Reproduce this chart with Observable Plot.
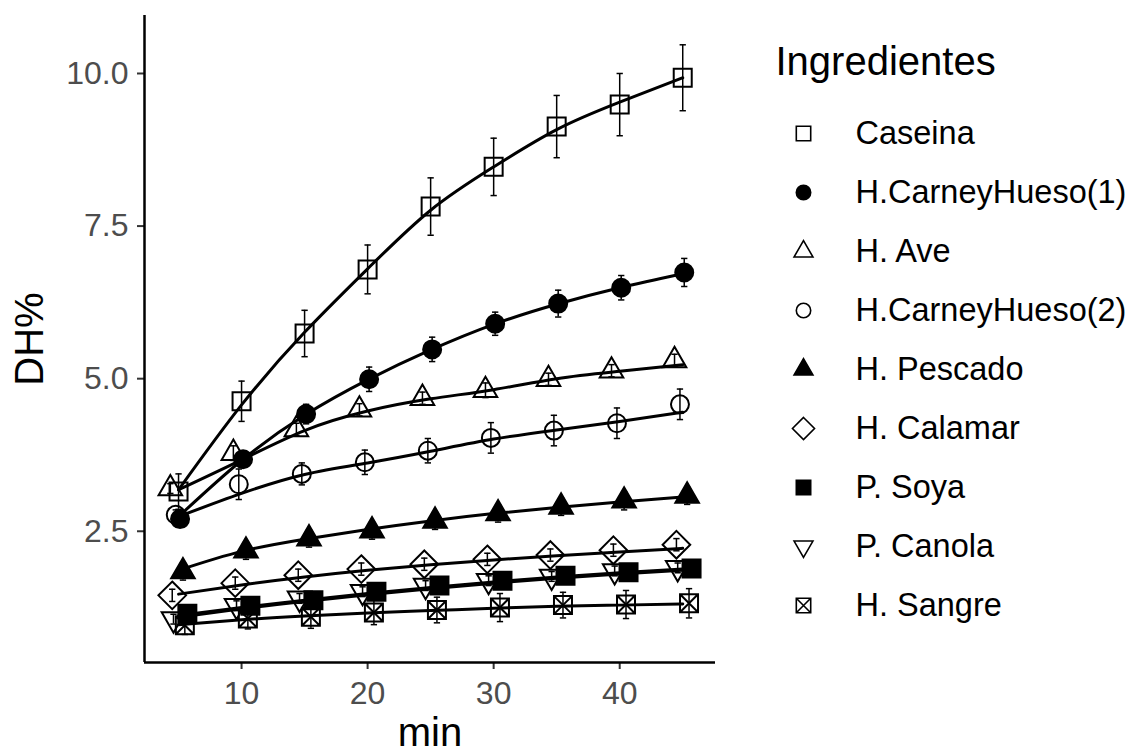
<!DOCTYPE html>
<html>
<head>
<meta charset="utf-8">
<script src="https://cdn.jsdelivr.net/npm/d3@7"></script>
<script src="https://cdn.jsdelivr.net/npm/@observablehq/plot@0.6"></script>
<style>
  body { margin: 0; background: #fff; }
  #chart { position: relative; width: 1129px; height: 754px; background: #fff;
           font-family: "Liberation Sans", Arial, sans-serif; }
  #plot { position: absolute; left: 0; top: 0; }
  #legend { position: absolute; left: 740px; top: 0; }
</style>
</head>
<body>
<div id="chart"><div id="plot"></div><div id="legend"></div></div>
<script>
// Sampling times (min)
const minutes = [5, 10, 15, 20, 25, 30, 35, 40, 45];

// Legend / series order
const ingredients = ["Caseina", "H.CarneyHueso(1)", "H. Ave", "H.CarneyHueso(2)",
  "H. Pescado", "H. Calamar", "P. Soya", "P. Canola", "H. Sangre"];

// Mean degree of hydrolysis (DH%), standard deviation, and fitted curve per ingredient
const caseinaDH  = [3.15, 4.63, 5.74, 6.79, 7.82, 8.47, 9.13, 9.49, 9.93];
const caseinaSD  = [0.29, 0.33, 0.38, 0.40, 0.47, 0.47, 0.51, 0.51, 0.54];
const caseinaFit = [3.18, 4.57, 5.76, 6.80, 7.76, 8.47, 9.08, 9.53, 9.93];

const carne1DH  = [2.70, 3.68, 4.42, 4.99, 5.48, 5.90, 6.23, 6.49, 6.74];
const carne1SD  = [0.06, 0.09, 0.16, 0.20, 0.20, 0.19, 0.22, 0.20, 0.23];
const carne1Fit = [2.74, 3.66, 4.40, 4.98, 5.47, 5.89, 6.22, 6.49, 6.72];

const aveDH  = [3.20, 3.78, 4.17, 4.49, 4.68, 4.81, 4.99, 5.13, 5.30];
const aveSD  = [0.08, 0.12, 0.10, 0.10, 0.10, 0.12, 0.10, 0.10, 0.10];
const aveFit = [3.18, 3.67, 4.15, 4.47, 4.67, 4.82, 5.00, 5.12, 5.23];

const carne2DH  = [2.77, 3.27, 3.44, 3.63, 3.82, 4.03, 4.15, 4.27, 4.58];
const carne2SD  = [0.08, 0.25, 0.18, 0.20, 0.20, 0.25, 0.25, 0.25, 0.25];
const carne2Fit = [2.74, 3.12, 3.43, 3.62, 3.81, 4.01, 4.16, 4.30, 4.45];

const pescadoDH  = [1.84, 2.18, 2.38, 2.51, 2.67, 2.79, 2.90, 3.00, 3.08];
const pescadoSD  = [0.14, 0.14, 0.14, 0.14, 0.14, 0.14, 0.14, 0.15, 0.14];
const pescadoFit = [1.86, 2.17, 2.37, 2.53, 2.67, 2.79, 2.89, 2.98, 3.06];

const calamarDH  = [1.45, 1.65, 1.78, 1.88, 1.96, 2.04, 2.11, 2.19, 2.28];
const calamarSD  = [0.10, 0.10, 0.10, 0.10, 0.10, 0.10, 0.10, 0.10, 0.10];
const calamarFit = [1.47, 1.62, 1.75, 1.86, 1.95, 2.03, 2.10, 2.16, 2.22];

const soyaDH  = [1.15, 1.28, 1.37, 1.51, 1.61, 1.69, 1.77, 1.83, 1.89];
const soyaSD  = [0.05, 0.05, 0.05, 0.05, 0.05, 0.05, 0.05, 0.05, 0.05];
const soyaFit = [1.12, 1.25, 1.37, 1.48, 1.58, 1.67, 1.75, 1.82, 1.88];

const canolaDH  = [1.06, 1.28, 1.40, 1.51, 1.61, 1.69, 1.76, 1.85, 1.90];
const canolaSD  = [0.08, 0.08, 0.08, 0.08, 0.08, 0.08, 0.08, 0.08, 0.08];
const canolaFit = [1.09, 1.23, 1.35, 1.46, 1.56, 1.65, 1.73, 1.80, 1.86];

const sangreDH  = [0.96, 1.07, 1.10, 1.17, 1.21, 1.25, 1.29, 1.30, 1.32];
const sangreSD  = [0.15, 0.17, 0.19, 0.20, 0.21, 0.23, 0.21, 0.23, 0.24];
const sangreFit = [0.97, 1.05, 1.11, 1.16, 1.20, 1.24, 1.27, 1.29, 1.31];

// Axis ticks
const xTicks = [10, 20, 30, 40];
const yTicks = [2.5, 5.0, 7.5, 10.0];

// ---- custom point shapes (R-style pch symbols) ----
const rad = size => Math.sqrt(size / Math.PI);
const S60 = Math.sqrt(3) / 2;
const shapes = {
  square: { draw(c, s) { const k = rad(s) * 0.9; c.rect(-k, -k, 2 * k, 2 * k); } },
  circle: { draw(c, s) { const k = rad(s) * 0.9; c.moveTo(k, 0); c.arc(0, 0, k, 0, 2 * Math.PI); c.closePath(); } },
  triUp: { draw(c, s) { const R = rad(s) * 1.36; c.moveTo(0, -R); c.lineTo(R * S60, R / 2); c.lineTo(-R * S60, R / 2); c.closePath(); } },
  triDown: { draw(c, s) { const R = rad(s) * 1.36; c.moveTo(0, R); c.lineTo(R * S60, -R / 2); c.lineTo(-R * S60, -R / 2); c.closePath(); } },
  diamond: { draw(c, s) { const D = rad(s) * 1.38; c.moveTo(0, -D); c.lineTo(D, 0); c.lineTo(0, D); c.lineTo(-D, 0); c.closePath(); } },
  squareX: { draw(c, s) { const k = rad(s) * 0.9; c.rect(-k, -k, 2 * k, 2 * k);
    c.moveTo(-k, -k); c.lineTo(k, k); c.moveTo(k, -k); c.lineTo(-k, k); } }
};

// Per-series styling and horizontal dodge (in minutes)
const styling = [
  { dh: caseinaDH, sd: caseinaSD, fit: caseinaFit, shape: shapes.square,  filled: false, dodge: 0.0 },
  { dh: carne1DH,  sd: carne1SD,  fit: carne1Fit,  shape: shapes.circle,  filled: true,  dodge: 0.12 },
  { dh: aveDH,     sd: aveSD,     fit: aveFit,     shape: shapes.triUp,   filled: false, dodge: -0.65 },
  { dh: carne2DH,  sd: carne2SD,  fit: carne2Fit,  shape: shapes.circle,  filled: false, dodge: -0.22 },
  { dh: pescadoDH, sd: pescadoSD, fit: pescadoFit, shape: shapes.triUp,   filled: true,  dodge: 0.35 },
  { dh: calamarDH, sd: calamarSD, fit: calamarFit, shape: shapes.diamond, filled: false, dodge: -0.5 },
  { dh: soyaDH,    sd: soyaSD,    fit: soyaFit,    shape: shapes.square,  filled: true,  dodge: 0.7 },
  { dh: canolaDH,  sd: canolaSD,  fit: canolaFit,  shape: shapes.triDown, filled: false, dodge: -0.4 },
  { dh: sangreDH,  sd: sangreSD,  fit: sangreFit,  shape: shapes.squareX, filled: false, dodge: 0.5 }
];

const series = ingredients.map((name, j) => {
  const st = styling[j];
  return {
    name, ...st,
    rows: minutes.map((m, i) => ({ m, t: m + st.dodge, dh: st.dh[i], sd: st.sd[i], fit: st.fit[i] }))
  };
});

const FONT = '"Liberation Sans", Arial, sans-serif';
const X_DOMAIN = [2.3, 47.6];
const Y_DOMAIN = [0.35, 10.95];
const CAP = 0.25; // half-width of error-bar caps (min)

const lineMarks = series.map(s => Plot.line(s.rows, {
  x: "m", y: "fit", curve: "natural", stroke: "black", strokeWidth: 3
}));
const dotMarks = series.map(s => Plot.dot(s.rows, {
  x: "t", y: "dh", symbol: s.shape, r: 10,
  fill: s.filled ? "black" : "none", stroke: "black", strokeWidth: 2
}));
const errMarks = series.flatMap(s => [
  Plot.ruleX(s.rows, { x: "t", y1: d => d.dh - d.sd, y2: d => d.dh + d.sd, stroke: "black", strokeWidth: 1.5 }),
  Plot.link(s.rows, { x1: d => d.t - CAP, x2: d => d.t + CAP, y1: d => d.dh + d.sd, y2: d => d.dh + d.sd, stroke: "black", strokeWidth: 1.5 }),
  Plot.link(s.rows, { x1: d => d.t - CAP, x2: d => d.t + CAP, y1: d => d.dh - d.sd, y2: d => d.dh - d.sd, stroke: "black", strokeWidth: 1.5 })
]);

const chart = Plot.plot({
  width: 740, height: 754,
  marginLeft: 144, marginTop: 15, marginRight: 25, marginBottom: 92,
  style: { fontFamily: FONT, background: "white", color: "black" },
  x: { domain: X_DOMAIN },
  y: { domain: Y_DOMAIN },
  marks: [
    Plot.axisX({ ticks: xTicks, tickSize: 7, tickPadding: 12, fontSize: 32,
      color: "#4D4D4D", stroke: "#333333", strokeWidth: 2, label: null }),
    Plot.axisY({ ticks: yTicks, tickFormat: d3.format(".1f"), tickSize: 7, tickPadding: 9, fontSize: 32,
      color: "#4D4D4D", stroke: "#333333", strokeWidth: 2, label: null }),
    Plot.ruleX([X_DOMAIN[0]], { stroke: "black", strokeWidth: 2.5 }),
    Plot.ruleY([Y_DOMAIN[0]], { stroke: "black", strokeWidth: 2.5 }),
    Plot.text(["min"], { frameAnchor: "bottom", lineAnchor: "middle", dy: 71, fontSize: 40, fill: "black" }),
    Plot.text(["DH%"], { frameAnchor: "left", lineAnchor: "middle", textAnchor: "middle",
      dx: -114, rotate: -90, fontSize: 40, fill: "black" }),
    ...lineMarks,
    ...dotMarks,
    ...errMarks
  ]
});
document.getElementById("plot").appendChild(chart);

// Legend drawn with the same shapes
const legend = Plot.plot({
  width: 389, height: 754,
  marginLeft: 63, marginTop: 0, marginRight: 0, marginBottom: 0,
  style: { fontFamily: FONT, background: "white", color: "black" },
  y: { type: "point", domain: ingredients, range: [131, 607], padding: 0, axis: null },
  marks: [
    Plot.text(["Ingredientes"], { frameAnchor: "top-left", lineAnchor: "middle", dx: -28, dy: 62,
      textAnchor: "start", fontSize: 40, fill: "black" }),
    ...series.map(s => Plot.dot([s.name], {
      y: d => d, frameAnchor: "left", symbol: s.shape, r: 8,
      fill: s.filled ? "black" : "none", stroke: "black", strokeWidth: 1.6
    })),
    Plot.text(ingredients, { y: d => d, frameAnchor: "left", lineAnchor: "middle", dx: 52,
      textAnchor: "start", fontSize: 32.5, fill: "black" })
  ]
});
document.getElementById("legend").appendChild(legend);
</script>
</body>
</html>
